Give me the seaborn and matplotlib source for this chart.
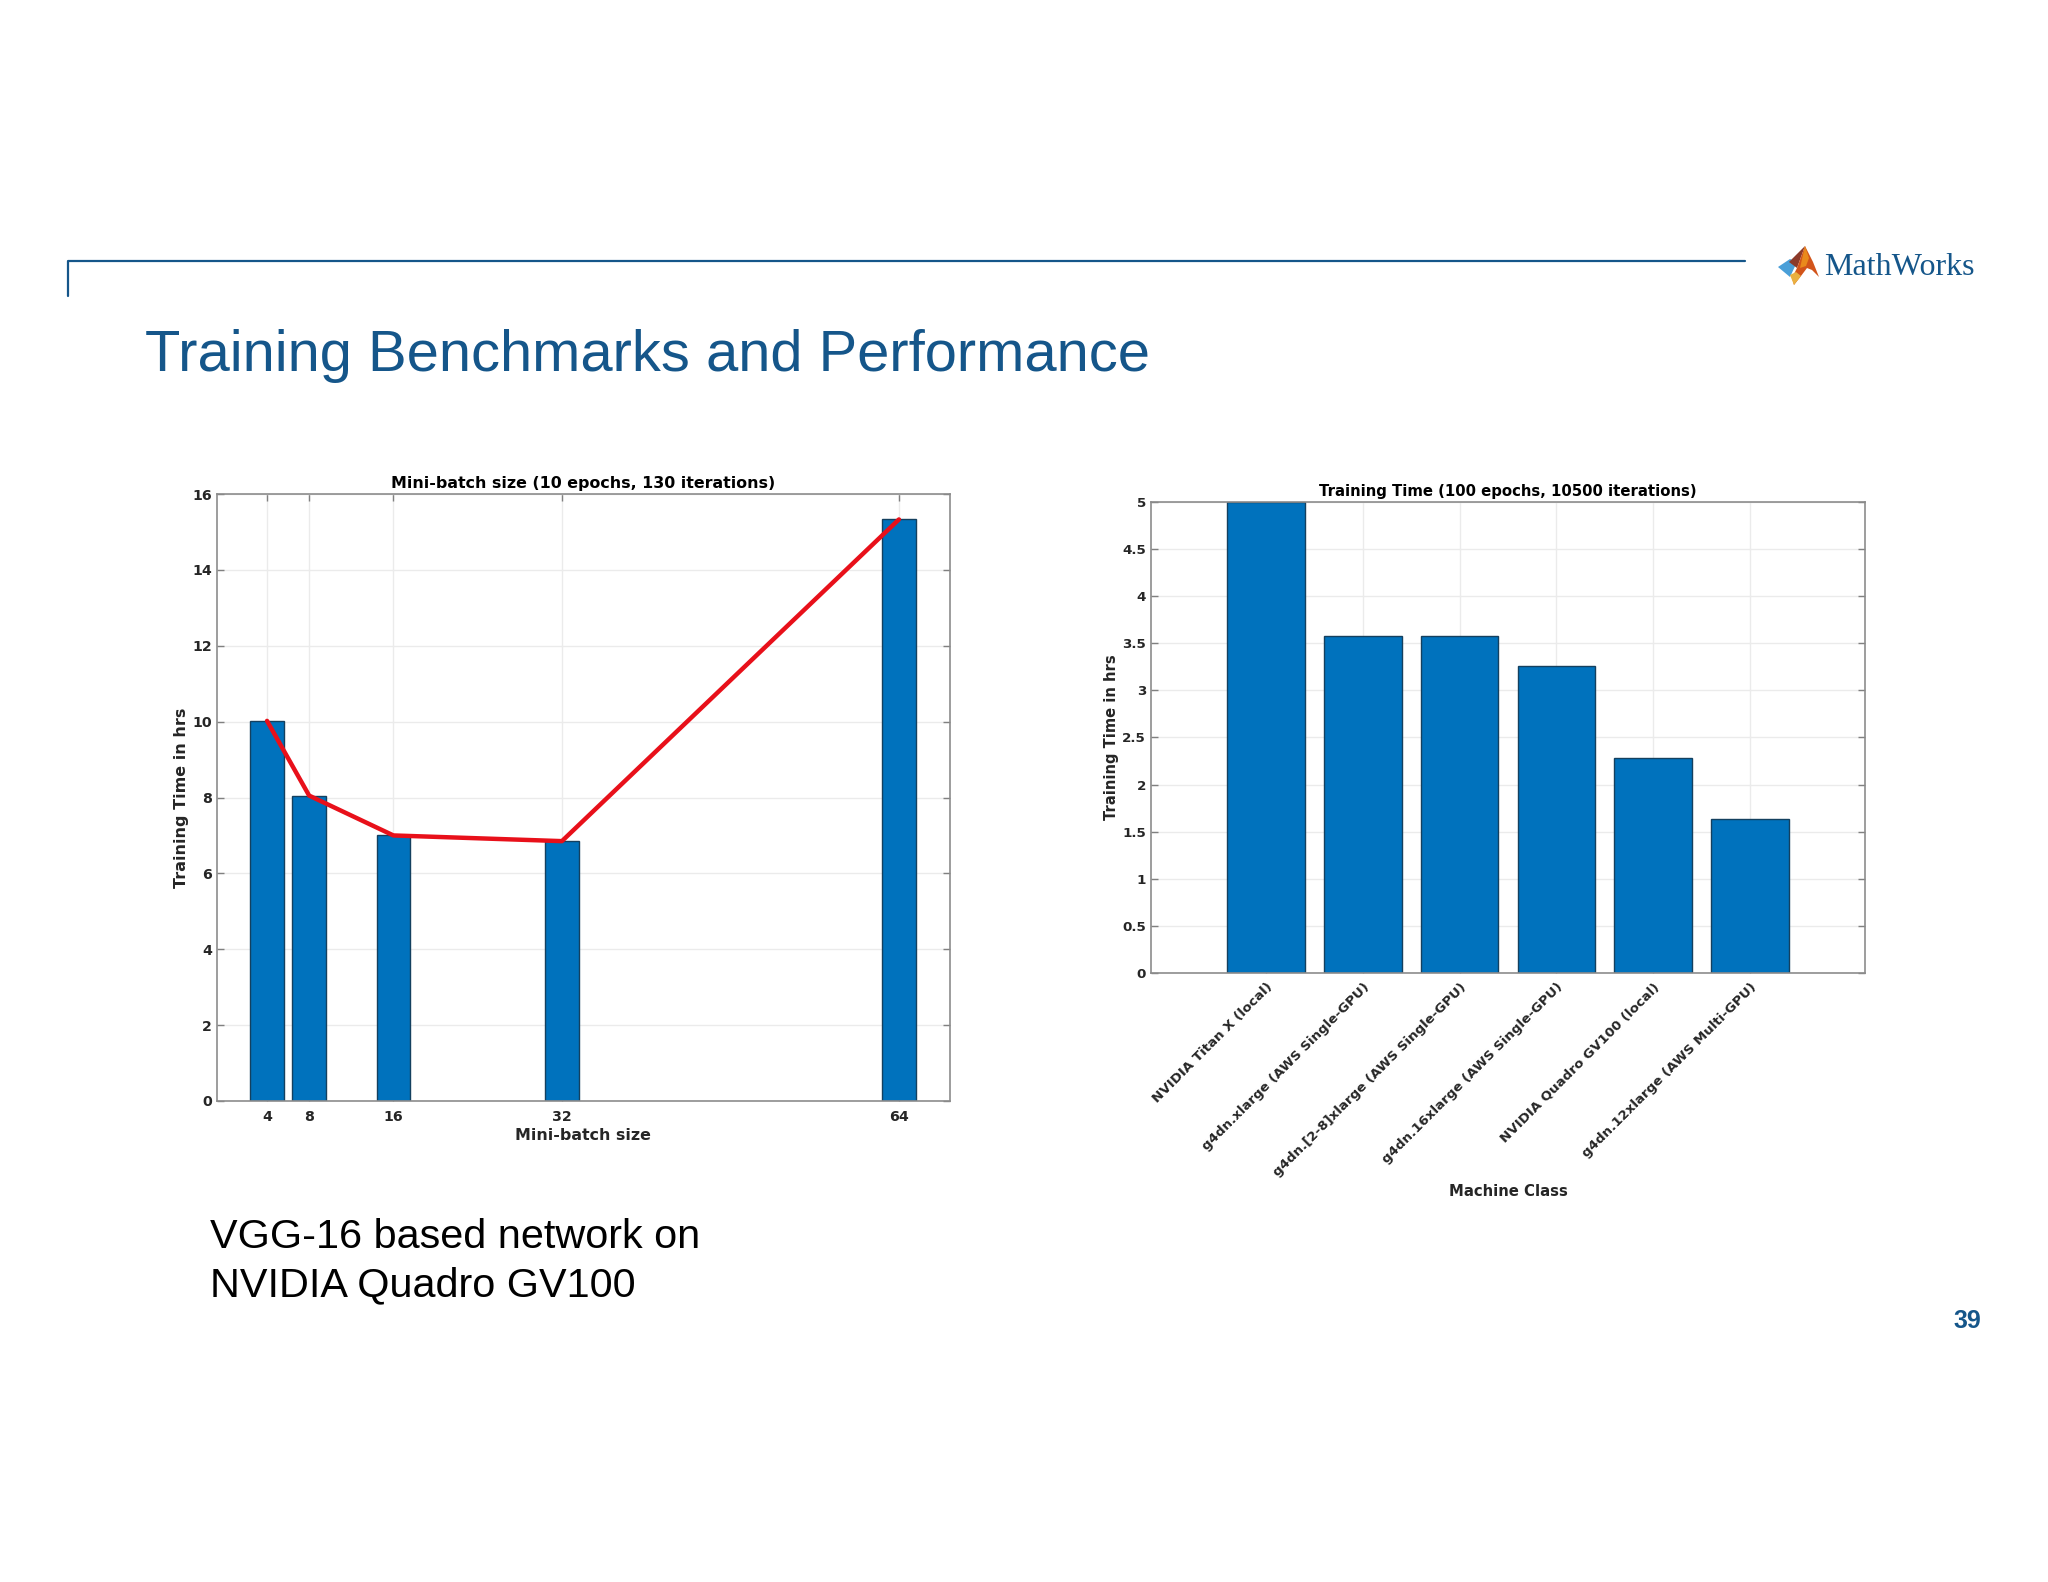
import matplotlib
matplotlib.use('Agg')
import pandas as pd
import seaborn as sns
import matplotlib.pyplot as plt
from matplotlib.lines import Line2D
from matplotlib.patches import Polygon

batch_sizes = [4, 8, 16, 32, 64]
batch_hours = [10.02, 8.05, 7.0, 6.85, 15.33]

machines = ['NVIDIA Titan X (local)', 'g4dn.xlarge (AWS Single-GPU)',
            'g4dn.[2-8]xlarge (AWS Single-GPU)', 'g4dn.16xlarge (AWS Single-GPU)',
            'NVIDIA Quadro GV100 (local)', 'g4dn.12xlarge (AWS Multi-GPU)']
machine_hours = [5.0, 3.58, 3.58, 3.26, 2.28, 1.64]

y_ticks_left = [0, 2, 4, 6, 8, 10, 12, 14, 16]
y_ticks_right = [0, 0.5, 1, 1.5, 2, 2.5, 3, 3.5, 4, 4.5, 5]
y_labels_right = ['0', '0.5', '1', '1.5', '2', '2.5', '3', '3.5', '4', '4.5', '5']

W, H = 2048, 1582
BLUE = '#0072bd'
EDGE = '#14405f'
SLIDE = '#15568a'
TXT = '#262626'

sns.set_theme(style='whitegrid')
plt.rcParams['font.family'] = 'DejaVu Sans'
plt.rcParams['font.weight'] = 'bold'

fig = plt.figure(figsize=(W / 100, H / 100), dpi=100, facecolor='white')


def box(x0, y0, x1, y1):
    return [x0 / W, 1 - y1 / H, (x1 - x0) / W, (y1 - y0) / H]


def fx(x):
    return x / W


def fy(y):
    return 1 - y / H


def style_axes(ax, size):
    ax.grid(True, color='#ebebeb', linewidth=1)
    ax.set_axisbelow(True)
    for s in ax.spines.values():
        s.set_color('#8c8c8c')
        s.set_linewidth(1.2)
    ax.tick_params(axis='both', which='both', direction='in', length=5, width=1,
                   color='#808080', labelcolor=TXT, labelsize=size, top=True, right=True,
                   bottom=True, left=True)
    ax.tick_params(axis='x', pad=6.5)
    ax.tick_params(axis='y', pad=3.5)


# left chart
ax1 = fig.add_axes(box(217, 494, 949.5, 1101))
df1 = pd.DataFrame({'batch': batch_sizes, 'hours': batch_hours})
sns.barplot(data=df1, x='batch', y='hours', native_scale=True, width=0.8,
            color=BLUE, saturation=1, edgecolor=EDGE, linewidth=1, ax=ax1)
sns.lineplot(data=df1, x='batch', y='hours', color='#e8101a', linewidth=3.2, ax=ax1)
ax1.set_xlim(-0.75, 68.8)
ax1.set_ylim(0, 16)
ax1.set_xticks(batch_sizes)
ax1.set_yticks(y_ticks_left)
style_axes(ax1, 10.2)
ax1.set_title('Mini-batch size (10 epochs, 130 iterations)', fontsize=11.4, fontweight='bold',
              color='black', pad=4)
ax1.set_xlabel('Mini-batch size', fontsize=11.4, fontweight='bold', color=TXT, labelpad=3)
ax1.set_ylabel('Training Time in hrs', fontsize=11.5, fontweight='bold', color=TXT, labelpad=2.6)

# right chart
ax2 = fig.add_axes(box(1151, 502, 1865, 973))
df2 = pd.DataFrame({'machine': machines, 'hours': machine_hours})
sns.barplot(data=df2, x='machine', y='hours', width=0.8, color=BLUE, saturation=1,
            edgecolor=EDGE, linewidth=1, ax=ax2)
ax2.set_xlim(-1.19, 6.19)
ax2.set_ylim(0, 5)
ax2.set_yticks(y_ticks_right)
ax2.set_yticklabels(y_labels_right)
style_axes(ax2, 9.7)
ax2.tick_params(axis='x', top=False, pad=5.5)
ax2.set_xticks(range(len(machines)))
ax2.set_xticklabels(machines, rotation=45, ha='right', rotation_mode='anchor', fontsize=9.6,
                    fontweight='bold')
ax2.set_title('Training Time (100 epochs, 10500 iterations)', fontsize=10.7, fontweight='bold',
              color='black', pad=4)
ax2.set_xlabel('Machine Class', fontsize=10.7, fontweight='bold', color=TXT, labelpad=3.5)
ax2.set_ylabel('Training Time in hrs', fontsize=10.6, fontweight='bold', color=TXT, labelpad=2.6)

# slide furniture
fig.add_artist(Line2D([fx(68), fx(68), fx(1745)], [fy(296), fy(261), fy(261)],
                      color=SLIDE, linewidth=1.6))
fig.text(fx(145), fy(371), 'Training Benchmarks and Performance', color=SLIDE,
         family='Liberation Sans', fontweight='normal', fontsize=41.7)
fig.text(fx(210), fy(1248), 'VGG-16 based network on', color='black',
         family='Liberation Sans', fontweight='normal', fontsize=29.8)
fig.text(fx(210), fy(1296), 'NVIDIA Quadro GV100', color='black',
         family='Liberation Sans', fontweight='normal', fontsize=29.8)
fig.text(fx(1967), fy(1328), '39', color=SLIDE, family='Liberation Sans',
         fontweight='bold', fontsize=18, ha='center')

# logo
logo_parts = [
    ([(1778, 267), (1790, 259), (1797, 262), (1790, 277)], '#4a9fd8'),
    ([(1805, 246), (1793, 258), (1789, 262), (1797, 268)], '#8c3a2a'),
    ([(1805, 246), (1797, 268), (1792, 278), (1794, 285), (1801, 276), (1807, 268),
      (1812, 270), (1819, 277), (1813, 262)], '#d2541a'),
    ([(1805, 246), (1800, 268), (1806, 266), (1809, 258)], '#e98a1c'),
    ([(1790, 275), (1794, 285), (1801, 276), (1796, 272)], '#eab040'),
]
for pts, col in logo_parts:
    fig.add_artist(Polygon([(fx(x), fy(y)) for x, y in pts], closed=True, facecolor=col,
                           edgecolor='none', transform=fig.transFigure))
fig.text(fx(1824), fy(275), 'MathWorks', color=SLIDE, family='Liberation Serif',
         fontweight='normal', fontsize=23)

fig.savefig('out.png', dpi=100, facecolor='white')
